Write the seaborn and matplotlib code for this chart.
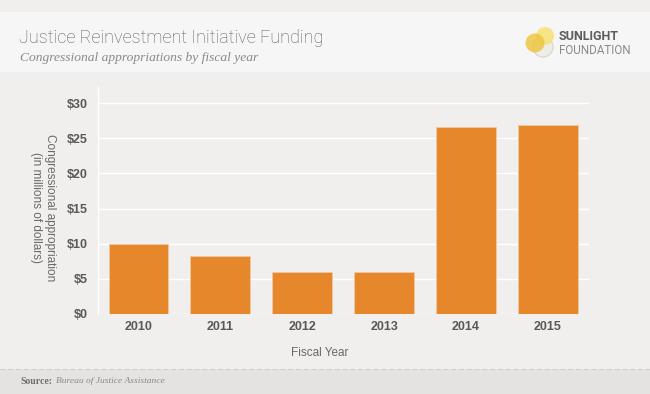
import matplotlib
matplotlib.use("Agg")
import matplotlib.pyplot as plt
import seaborn as sns
import pandas as pd
from matplotlib.patches import Rectangle, Ellipse
from matplotlib.lines import Line2D

years = ["2010", "2011", "2012", "2013", "2014", "2015"]
funding = [10.0, 8.2, 6.0, 6.0, 26.6, 26.9]
yticks = [0, 5, 10, 15, 20, 25, 30]
ytick_labels = ["$0", "$5", "$10", "$15", "$20", "$25", "$30"]

df = pd.DataFrame({"year": years, "funding": funding})

sns.set_theme(style="white")
W, H = 650, 394
fig = plt.figure(figsize=(6.5, 3.94), dpi=100)
fig.patch.set_facecolor("#f0efed")

def px(x, y):
    return x / W, 1 - y / H

# header band
fig.patches.append(Rectangle(px(0, 72), 1, 60 / H, transform=fig.transFigure,
                             facecolor="#f7f6f6", edgecolor="none", zorder=0))
# footer band
fig.patches.append(Rectangle((0, 0), 1, 25 / H, transform=fig.transFigure,
                             facecolor="#e4e3e1", edgecolor="none", zorder=0))
fig.lines.append(Line2D([0, 1], [1 - 369 / H] * 2, transform=fig.transFigure,
                        color="#cfcecc", lw=0.8, ls=(0, (4, 3))))

ax = fig.add_axes([97.5 / W, 1 - 314 / H, (589 - 97.5) / W, (314 - 87) / H])
ax.set_facecolor("#f0efed")
sns.barplot(data=df, x="year", y="funding", color="#e6872c", saturation=1,
            width=0.73, ax=ax, zorder=3, edgecolor="#f3c9a0", linewidth=0.6)
ax.set_ylim(0, 32.3)
ax.set_xlim(-0.5, 5.5)
ax.set_yticks(yticks)
ax.set_yticklabels(ytick_labels)
ax.yaxis.grid(True, color="white", lw=1.0, zorder=0)
ax.set_axisbelow(True)
for s in ["top", "right", "bottom"]:
    ax.spines[s].set_visible(False)
ax.spines["left"].set_color("white")
ax.spines["left"].set_linewidth(1.0)
ax.tick_params(axis="y", length=4, color="white", width=1, pad=3)
ax.tick_params(axis="x", length=0, pad=5)
for lab in ax.get_yticklabels() + ax.get_xticklabels():
    lab.set_fontfamily("Liberation Sans")
    lab.set_fontweight("bold")
    lab.set_fontsize(9)
    lab.set_color("#5a5858")
ax.set_xlabel("")
ax.set_ylabel("")

fig.text(*px(320, 353), "Fiscal Year", ha="center", va="center", fontsize=8.5,
         color="#6a6868", family="Liberation Sans")
fig.text(*px(43, 208), "Congressional appropriation\n(in millions of dollars)",
         rotation=270, ha="center", va="center", fontsize=8.5, color="#6a6868",
         family="Liberation Sans", linespacing=1.15)

# titles
fig.text(*px(19, 38), "Justice Reinvestment Initiative Funding", ha="left", va="center",
         fontsize=13, color="#5e5c5c", family="Roboto", fontweight="light")
fig.text(*px(20, 58), "Congressional appropriations by fiscal year", ha="left", va="center",
         fontsize=9.7, color="#8a8888", family="Liberation Serif", style="italic")

# logo
def circ(cx, cy, r, **kw):
    x, y = px(cx, cy)
    fig.patches.append(Ellipse((x, y), 2 * r / W, 2 * r / H,
                               transform=fig.transFigure, **kw))

circ(543, 47, 10, facecolor="#edeeea", edgecolor="#d6d4c4", lw=0.8, zorder=5)
circ(545, 36, 9, facecolor="#f7e37c", edgecolor="none", alpha=0.9, zorder=6)
circ(535, 43, 9.5, facecolor="#edc43a", edgecolor="none", alpha=0.8, zorder=7)
fig.text(*px(559, 37), "SUNLIGHT", ha="left", va="center", fontsize=9,
         fontweight="bold", color="#5e5c5c", family="Roboto")
fig.text(*px(559, 51), "FOUNDATION", ha="left", va="center", fontsize=8.4,
         color="#8a8888", family="Roboto")

# source
fig.text(*px(20, 381), "Source:", ha="left", va="center", fontsize=7, fontweight="bold",
         color="#6f6d6d", family="Liberation Serif")
fig.text(*px(56, 381), "Bureau of Justice Assistance", ha="left", va="center", fontsize=6.8,
         style="italic", color="#8a8888", family="Liberation Serif")

fig.savefig("out.png", dpi=100, facecolor=fig.get_facecolor())
